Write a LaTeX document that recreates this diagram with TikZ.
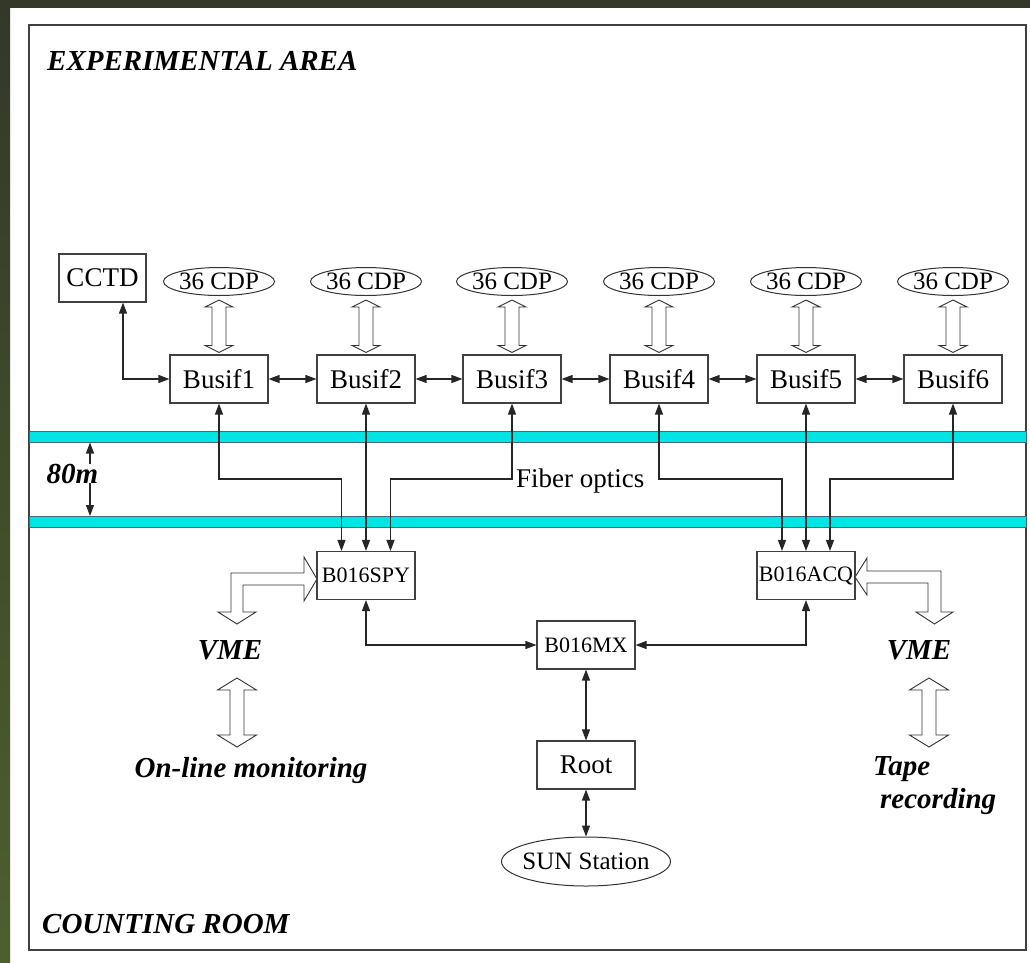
\documentclass[tikz,border=0pt]{standalone}
\usepackage{fontspec}
\setmainfont{Liberation Serif}
\usepackage{xcolor}
\usepackage{tikz}
\usetikzlibrary{calc,shapes.geometric,arrows.meta}

\definecolor{barcyan}{RGB}{0,228,228}
\definecolor{bgtop}{RGB}{51,56,40}
\definecolor{bgbot}{RGB}{78,95,47}

% hollow two-headed arrow between two anchors (upper, lower, head half width, head length)
\newcommand{\dualarrow}[4]{%
  \draw[hollow] let \p1=(#1), \p2=(#2) in
    (\x1,\y1) -- ({\x1+#3},{\y1-#4}) -- ({\x1+7pt},{\y1-#4}) -- ({\x1+7pt},{\y2+#4})
    -- ({\x1+#3},{\y2+#4}) -- (\x1,\y2) -- ({\x1-#3},{\y2+#4}) -- ({\x1-7pt},{\y2+#4})
    -- ({\x1-7pt},{\y1-#4}) -- ({\x1-#3},{\y1-#4}) -- cycle;}

\begin{document}
\begin{tikzpicture}[x=1pt, y=-1pt,
    box/.style={rectangle, draw=black!75, line width=1.1pt, minimum width=98pt, minimum height=48pt, inner sep=0pt, font=\fontsize{27}{32}\selectfont},
    smallbox/.style={box, font=\fontsize{22}{26}\selectfont},
    cdp/.style={ellipse, draw=black!80, line width=1pt, minimum width=111pt, minimum height=28pt, inner sep=0pt, inner xsep=-1pt, font=\fontsize{25}{30}\selectfont},
    bar/.style={rectangle, draw=black!60!cyan, fill=barcyan, line width=1pt, minimum width=997pt, minimum height=11pt, inner sep=0pt},
    lbl/.style={inner sep=0pt, font=\fontsize{29}{34}\selectfont\bfseries\itshape},
    hollow/.style={draw=black!80, fill=white, line width=0.9pt, line join=miter},
    link/.style={<->, >={Triangle[length=11pt, width=8pt]}, draw=black!85, line width=1.2pt}
]
    \useasboundingbox (0,0) rectangle (1030,962);
    % background and frame
    \fill[white] (0,0) rectangle (1030,962);
    \shade[top color=bgtop, bottom color=bgbot] (0,0) rectangle (10,962);
    \fill[bgtop] (0,0) rectangle (1030,8);
    \draw[black!75, line width=1.2pt] (29,25) rectangle (1026,950);

    % Area titles
    \node[lbl, anchor=base west] (exp) at (47,70) {EXPERIMENTAL AREA};
    \node[lbl, anchor=base west] (cnt) at (42,933) {COUNTING ROOM};

    % Fiber bars
    \node[bar] (bar1) at (527.5,436.5) {};
    \node[bar] (bar2) at (527.5,522) {};

    % Experimental area
    \node[box, minimum width=87pt] (cctd) at (102.5,278) {CCTD};
    \node[cdp] (c1) at (219,281.5) {36 CDP};
    \node[cdp] (c2) at (366,281.5) {36 CDP};
    \node[cdp] (c3) at (512,281.5) {36 CDP};
    \node[cdp] (c4) at (659,281.5) {36 CDP};
    \node[cdp] (c5) at (806,281.5) {36 CDP};
    \node[cdp] (c6) at (953,281.5) {36 CDP};
    \node[box] (b1) at (219,379) {Busif1};
    \node[box] (b2) at (366,379) {Busif2};
    \node[box] (b3) at (512,379) {Busif3};
    \node[box] (b4) at (659,379) {Busif4};
    \node[box] (b5) at (806,379) {Busif5};
    \node[box] (b6) at (953,379) {Busif6};

    % Counting room
    \node[smallbox] (spy) at (366,575.5) {B016SPY};
    \node[smallbox] (acq) at (806,575.5) {B016ACQ};
    \node[smallbox] (mx) at (586,645) {B016MX};
    \node[box] (root) at (586,765) {Root};
    \node[ellipse, draw=black!80, line width=1pt, minimum width=169pt, minimum height=49pt, inner sep=0pt, inner xsep=-4pt, font=\fontsize{25}{30}\selectfont] (sun) at (586,861.5) {SUN Station};

    % Bus links
    \coordinate (cctdout) at ([xshift=20.5pt]cctd.south);
    \draw[link] (cctdout) |- (b1.west);
    \draw[link] (b1.east) -- (b2.west);
    \draw[link] (b2.east) -- (b3.west);
    \draw[link] (b3.east) -- (b4.west);
    \draw[link] (b4.east) -- (b5.west);
    \draw[link] (b5.east) -- (b6.west);

    \dualarrow{[yshift=-4pt]c1.south}{[yshift=2pt]b1.north}{14pt}{7pt}
    \dualarrow{[yshift=-4pt]c2.south}{[yshift=2pt]b2.north}{14pt}{7pt}
    \dualarrow{[yshift=-4pt]c3.south}{[yshift=2pt]b3.north}{14pt}{7pt}
    \dualarrow{[yshift=-4pt]c4.south}{[yshift=2pt]b4.north}{14pt}{7pt}
    \dualarrow{[yshift=-4pt]c5.south}{[yshift=2pt]b5.north}{14pt}{7pt}
    \dualarrow{[yshift=-4pt]c6.south}{[yshift=2pt]b6.north}{14pt}{7pt}

    % Fiber optics
    \coordinate (fib) at (0,479);
    \coordinate (spyl) at ([xshift=-24.5pt]spy.north);
    \coordinate (spyr) at ([xshift=24.5pt]spy.north);
    \coordinate (acql) at ([xshift=-24pt]acq.north);
    \coordinate (acqr) at ([xshift=24pt]acq.north);
    \draw[link] (b1.south) |- (fib -| spyl) -- (spyl);
    \draw[link] (b2.south) -- (spy.north);
    \draw[link] (b3.south) |- (fib -| spyr) -- (spyr);
    \draw[link] (b4.south) |- (fib -| acql) -- (acql);
    \draw[link] (b5.south) -- (acq.north);
    \draw[link] (b6.south) |- (fib -| acqr) -- (acqr);
    \node[anchor=base west, inner sep=0pt, font=\fontsize{27}{32}\selectfont] (fibtxt) at (516,487) {Fiber optics};

    \coordinate (gap) at (90,475);
    \draw[link] (bar1.south -| gap) -- (bar2.north -| gap);
    \node[lbl, anchor=base, fill=white, inner xsep=1pt] (dist) at (72.5,483) {80m};

    % Counting room links
    \draw[link] (spy.south) |- (mx.west);
    \draw[link] (acq.south) |- (mx.east);
    \draw[link] (mx.south) -- (root.north);
    \draw[link] (root.south) -- (sun.north);

    % VME paths
    \draw[hollow] (317,579) -- (304,557) -- (304,573) -- (231,573) -- (231,612) -- (218,612)
        -- (237,624) -- (256,612) -- (243,612) -- (243,585) -- (304,585) -- (304,601) -- cycle;
    \draw[hollow] (855,577) -- (867,558) -- (867,571) -- (941,571) -- (941,612) -- (953,612)
        -- (934.5,624) -- (916,612) -- (928,612) -- (928,583) -- (867,583) -- (867,595) -- cycle;
    \node[lbl, anchor=base] (vmel) at (230,659) {VME};
    \node[lbl, anchor=base] (vmer) at (919,659) {VME};

    \coordinate (mon1) at (237,678);
    \coordinate (mon2) at (237,747);
    \coordinate (tap1) at (929,678);
    \coordinate (tap2) at (929,747);
    \dualarrow{mon1}{mon2}{19.5pt}{12pt}
    \dualarrow{tap1}{tap2}{19.5pt}{12pt}
    \node[lbl, anchor=base] (mon) at (251,777) {On-line monitoring};
    \node[lbl, anchor=base west] (tape) at (873,775) {Tape};
    \node[lbl, anchor=base west] (rec) at (880,808) {recording};
\end{tikzpicture}
\end{document}
